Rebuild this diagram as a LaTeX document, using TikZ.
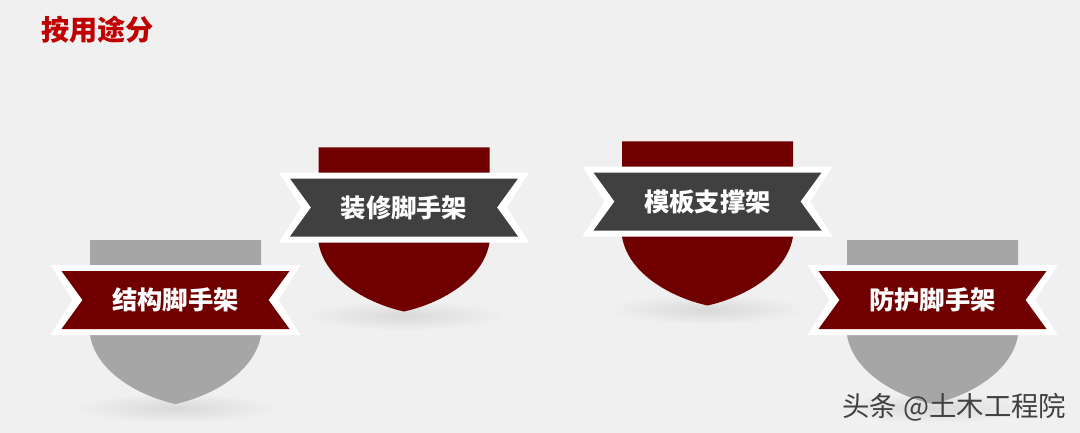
\documentclass[tikz,border=0pt]{standalone}
\usepackage{fontspec}
\newfontfamily\cjk{Noto Sans CJK SC}
\usepackage{tikz}
\usetikzlibrary{positioning,shadings}
\definecolor{bgpage}{HTML}{F0F0F0}
\definecolor{titlered}{HTML}{C00000}
\definecolor{wine}{HTML}{700000}
\definecolor{slate}{HTML}{404040}
\definecolor{ash}{HTML}{A6A6A6}
\tikzset{
    ribbontext/.style={text=white, inner sep=0pt, font=\cjk\bfseries\fontsize{18}{20}\selectfont},
    tipshade/.style={inner color=black!15, outer color=bgpage}
}

\begin{document}
\begin{tikzpicture}[x=0.025cm, y=-0.025cm]
    \fill[bgpage] (0,0) rectangle (1080,433);
    \useasboundingbox (0,0) rectangle (1080,433);
    \node[anchor=west, inner sep=0pt, text=titlered, font=\cjk\bfseries\fontsize{20}{24}\selectfont] (title) at (41,30) {按用途分};
    % four badges: centre x / ribbon centre y / shield colour / band colour / name / text
    \foreach \cx/\cy/\body/\band/\name/\txt in {175.5/300/ash/wine/jiegou/结构脚手架,
        404/207.5/wine/slate/zhuangxiu/装修脚手架,
        707.5/201.5/wine/slate/moban/模板支撑架,
        932.5/300/ash/wine/fanghu/防护脚手架}{
        \begin{scope}[shift={(\cx,\cy)}]
            \shade[tipshade] (0,108) ellipse (100 and 15);
            \fill[\body] (-85.5,-60) -- (85.5,-60) -- (85.5,35)
                .. controls (80,70) and (40,95) .. (0,104)
                .. controls (-40,95) and (-80,70) .. (-85.5,35) -- cycle;
            \fill[white] (-125,-35) -- (125,-35) -- (103,0) -- (125,35)
                -- (-125,35) -- (-103,0) -- cycle;
            \fill[\band] (-114,-29) -- (114,-29) -- (93,0) -- (114,29)
                -- (-114,29) -- (-93,0) -- cycle;
            \node[ribbontext] (\name) at (0,0) {\txt};
        \end{scope}
    }
    \node[anchor=west, inner sep=0pt, text=black!75, font=\cjk\fontsize{19.5}{22}\selectfont] (mark) at (842,407) {头条 @土木工程院};
\end{tikzpicture}
\end{document}
